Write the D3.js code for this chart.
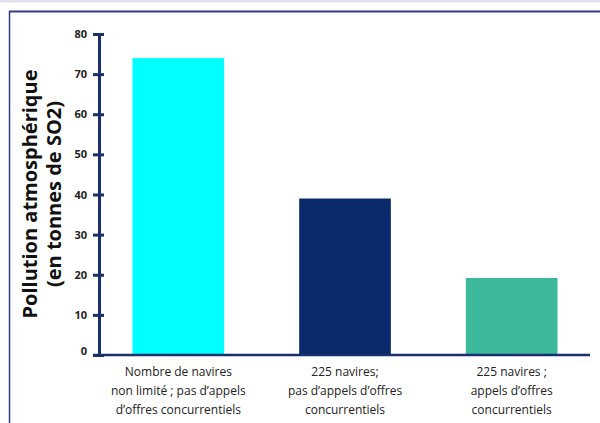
<!DOCTYPE html>
<html><head><meta charset="utf-8">
<script src="https://cdn.jsdelivr.net/npm/d3@7"></script>
<style>body{margin:0;background:#fff}svg{display:block}</style>
</head><body>
<svg id="c" width="600" height="423"></svg>
<script>
const categories = [
  ["Nombre de navires","non limité ; pas d’appels","d’offres concurrentiels"],
  ["225 navires;","pas d’appels d’offres","concurrentiels"],
  ["225 navires ;","appels d’offres","concurrentiels"]
];
const values = [74, 39, 19.2];
const colors = ["#00ffff", "#0a2a6b", "#3db89b"];
const yTicks = [0,10,20,30,40,50,60,70,80];
const yTitle = ["Pollution atmosphérique", "(en tonnes de SO2)"];

const svg = d3.select("#c");
const font = "'Open Sans', sans-serif";
// top strip and frame
svg.append("rect").attr("x",0).attr("y",0).attr("width",600).attr("height",2.5).attr("fill","#e2e2ee");
svg.append("line").attr("x1",9).attr("x2",600).attr("y1",11.5).attr("y2",11.5).attr("stroke","#2c3f86").attr("stroke-width",2);
svg.append("line").attr("x1",9.5).attr("x2",9.5).attr("y1",11).attr("y2",423).attr("stroke","#2c3f86").attr("stroke-width",1.5);

const x = d3.scaleBand().domain(d3.range(values.length)).range([95,595]).paddingInner(0.45).paddingOuter(0.225);
const y = d3.scaleLinear().domain([0,80]).range([355,34]);

svg.selectAll("rect.bar").data(values).join("rect").attr("class","bar")
  .attr("x",(d,i)=>x(i)).attr("width",x.bandwidth())
  .attr("y",d=>y(d)).attr("height",d=>y(0)-y(d))
  .attr("fill",(d,i)=>colors[i]);

// x axis line
svg.append("line").attr("x1",93).attr("x2",590).attr("y1",y(0)).attr("y2",y(0)).attr("stroke","#1a2f6e").attr("stroke-width",2.5);

const ya = svg.append("g").attr("transform","translate(99,0)")
  .call(d3.axisLeft(y).tickValues(yTicks).tickSize(0).tickPadding(12));
ya.select(".domain").attr("stroke","#1a2f6e").attr("stroke-width",3);
ya.selectAll(".tick line").attr("x1",-6).attr("x2",5).attr("stroke","#1a2f6e").attr("stroke-width",3);
ya.selectAll(".tick text").attr("font-family",font).attr("font-weight","bold").attr("font-size",11).attr("fill","#222");
ya.selectAll(".tick").filter(d=>d===0).select("text").attr("dy","-0.05em");

// y title
const yt = svg.append("text").attr("transform","translate(0,194) rotate(-90)")
  .attr("text-anchor","middle").attr("font-family",font).attr("font-weight","bold").attr("font-size",20).attr("fill","#111");
yTitle.forEach((t,i)=>yt.append("tspan").attr("x",0).attr("y",37+i*24).text(t));

// category labels
categories.forEach((lines,i)=>{
  const t = svg.append("text").attr("text-anchor","middle").attr("font-family",font).attr("font-size",12).attr("fill","#222");
  lines.forEach((l,j)=>t.append("tspan").attr("x",x(i)+x.bandwidth()/2).attr("y",376+j*19).text(l));
});
</script>
</body></html>
